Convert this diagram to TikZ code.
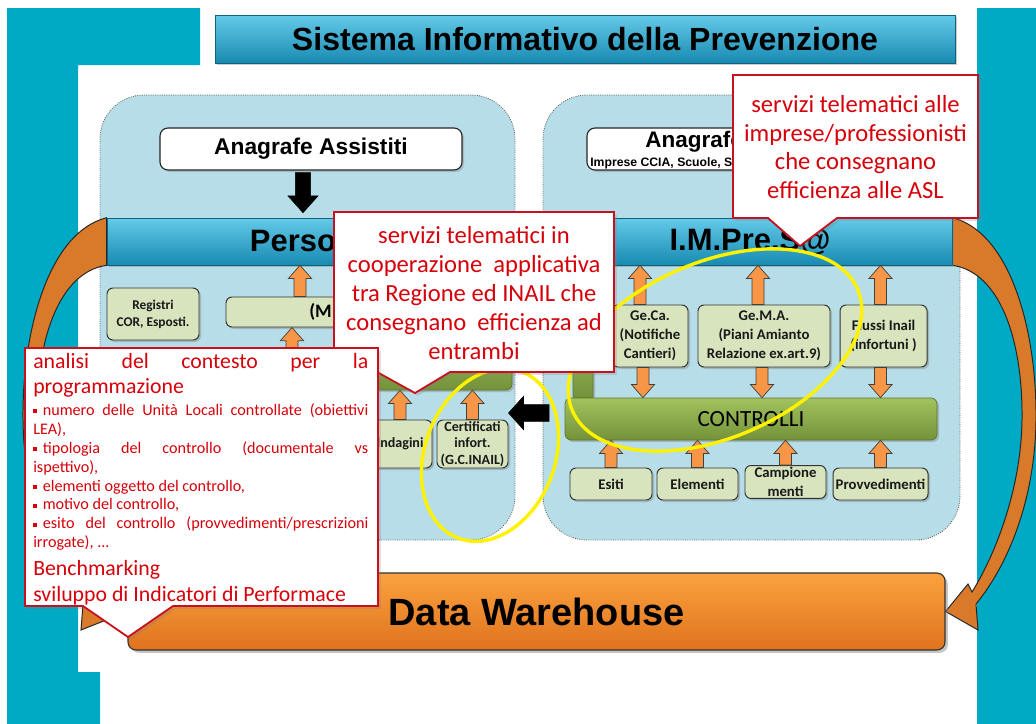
\documentclass[tikz,border=0pt]{standalone}
\usepackage{fontspec}
\setmainfont{Liberation Sans}
\newfontfamily\carlito{Carlito}
\usetikzlibrary{calc,shadows}
\setlength{\parindent}{0pt}

\definecolor{tealbg}{RGB}{0,170,196}
\definecolor{regblue}{RGB}{183,221,232}
\definecolor{bartop}{RGB}{100,202,232}
\definecolor{barbot}{RGB}{24,138,178}
\definecolor{boxgreen}{RGB}{215,228,189}
\definecolor{ctrltop}{RGB}{162,194,94}
\definecolor{ctrlbot}{RGB}{116,146,58}
\definecolor{arrorange}{RGB}{247,150,70}
\definecolor{dwtop}{RGB}{250,162,62}
\definecolor{dwbot}{RGB}{224,114,30}
\definecolor{curveorange}{RGB}{216,122,42}
\definecolor{calred}{RGB}{214,0,10}
\definecolor{calborder}{RGB}{200,16,30}

\newcommand\fsz[2]{\fontsize{#1}{#2}\selectfont}
\newcommand\itemsq{\rule[0.3ex]{0.5ex}{0.5ex}\hspace{0.35em}}

% frecce a blocco: stile, partenza, arrivo, mezzo fusto, mezza punta, lunghezza punta
\newcommand\vblk[6]{\draw[#1] let \p1=(#2),\p2=(#3),\n1={ifthenelse(\y2>\y1,1,-1)} in
  ({\x1-#4},\y1) -- ({\x1-#4},{\y2-(\n1)*#6}) -- ({\x1-#5},{\y2-(\n1)*#6}) -- (\x1,\y2)
  -- ({\x1+#5},{\y2-(\n1)*#6}) -- ({\x1+#4},{\y2-(\n1)*#6}) -- ({\x1+#4},\y1) -- cycle;}
\newcommand\hblk[6]{\draw[#1] let \p1=(#2),\p2=(#3),\n1={ifthenelse(\x2>\x1,1,-1)} in
  (\x1,{\y1-#4}) -- ({\x2-(\n1)*#6},{\y1-#4}) -- ({\x2-(\n1)*#6},{\y1-#5}) -- (\x2,\y1)
  -- ({\x2-(\n1)*#6},{\y1+#5}) -- ({\x2-(\n1)*#6},{\y1+#4}) -- (\x1,{\y1+#4}) -- cycle;}
\newcommand\oarr[2]{\vblk{oarrow}{#1}{#2}{1.5mm}{2.9mm}{3.3mm}}

\pgfdeclarelayer{bg}
\pgfdeclarelayer{mid}
\pgfsetlayers{bg,mid,main}

\tikzset{
  bw/.style={minimum width=#1*0.25mm},
  bh/.style={minimum height=#1*0.25mm},
  region/.style={draw=gray!70!black, densely dotted, line width=0.6pt, fill=regblue, rounded corners=11mm},
  blubar/.style={draw=barbot!70!black, line width=0.4pt, top color=bartop, bottom color=barbot,
    drop shadow={opacity=0.4,shadow xshift=0.6mm,shadow yshift=-0.6mm}, font=\bfseries\fsz{22}{26}},
  wbox/.style={draw=black!85, line width=0.8pt, fill=white, rounded corners=2mm,
    drop shadow={opacity=0.35,shadow xshift=0.5mm,shadow yshift=-0.5mm}},
  gbox/.style={draw=black!80, line width=0.7pt, fill=boxgreen, rounded corners=1.5mm, align=center,
    inner sep=1pt, text=black!90, drop shadow={opacity=0.4,shadow xshift=0.5mm,shadow yshift=-0.5mm},
    font=\carlito\bfseries\fsz{10.5}{13.5}},
  ctrlbox/.style={draw=ctrlbot!80!black, line width=0.5pt, top color=ctrltop, bottom color=ctrlbot,
    rounded corners=1.5mm, drop shadow={opacity=0.4,shadow xshift=0.5mm,shadow yshift=-0.5mm},
    font=\carlito\fsz{16.5}{19}},
  oarrow/.style={draw=black!75, line width=0.5pt, fill=arrorange},
  karrow/.style={draw=black, fill=black},
  curvarr/.style={draw=black!85, line width=0.7pt, fill=curveorange},
  ring/.style={draw=yellow, line width=0.85mm},
  callout/.style={draw=calborder, line width=0.45mm, fill=white,
    drop shadow={opacity=0.25,shadow xshift=0.7mm,shadow yshift=-0.7mm}},
  calltext/.style={font=\carlito\fsz{17.5}{20.5}, text=calred, align=center, inner sep=0pt}
}

\begin{document}
\begin{tikzpicture}[x=0.25mm,y=-0.25mm]
\useasboundingbox (0,0) rectangle (1036,724);

\begin{pgfonlayer}{bg}
\fill[white] (0,0) rectangle (1036,724);
\fill[tealbg] (7,8) -| (200,65) -| (78,672) -| (100,724) -| (7,8) -- cycle;
\fill[tealbg] (977,8) rectangle (1036,724);
\node[region, bw=415, bh=445] (leftreg) at (307.5,317.5) {};
\node[region, bw=417, bh=445] (rightreg) at (751.5,317.5) {};
\end{pgfonlayer}

% titolo
\node[blubar, bw=740, bh=48, font=\bfseries\fsz{22.8}{26}] (title) at (585,39) {Sistema Informativo della Prevenzione};

% anagrafi
\node[wbox, bw=302, bh=42, font=\bfseries\fsz{16.2}{19}] (anag) at (311,149) {Anagrafe Assistiti};
\node[wbox, bw=253, bh=42] (anagimp) at (713.5,149) {};
\node[anchor=west, inner sep=0pt, font=\bfseries\fsz{16}{19}] (anagr) at (645,142) {Anagrafe};
\node[anchor=west, inner sep=0pt, font=\bfseries\fsz{8.7}{10}] (anagrsub) at (590,163.5) {Imprese CCIA, Scuole, S};

% barre
\node[blubar, bw=408, bh=47] (persone) at (311,241.5) {Persone\hspace{5mm}};
\node[blubar, bw=404, bh=47] (impresa) at (750,241.5) {I.M.Pre.S@};
\vblk{karrow}{$(anag.south)+(-8,2)$}{$(persone.north)+(0,-5)$}{1.9mm}{3.75mm}{4.2mm}

% regione sinistra
\node[gbox, bw=92, bh=52, font=\carlito\bfseries\fsz{9.5}{12}] (reg) at (153,314) {Registri\\COR, Esposti.};
\node[gbox, bw=194, bh=30] (mbox) at (323,312) {};
\node[anchor=west, inner sep=0pt, font=\carlito\bfseries\fsz{13.5}{16}] (mtext) at (309,312) {(M};
\node[ctrlbox, bw=152, bh=60] (inibox) at (436,360) {};
\node[gbox, bw=64, bh=48, font=\carlito\bfseries\fsz{10}{11.5}] (indag) at (400,444) {Indagini};
\node[gbox, bw=71, bh=48, font=\carlito\bfseries\fsz{10}{11.5}] (cert) at (472.5,444) {Certificati\\infort.\\(G.C.INAIL)};
\coordinate (hida) at (292,362);
\oarr{$(mbox.north)+(-23,0)$}{persone.south}
\oarr{hida}{mbox.south}
\oarr{indag.north}{inibox.south}
\oarr{cert.north}{inibox.south}

% regione destra
\node[ctrlbox, bw=20, bh=68, rounded corners=0.5mm] (greentab) at (583,364) {};
\node[gbox, bw=76, bh=62] (geca) at (650,336) {Ge.Ca.\\(Notifiche\\Cantieri)};
\node[gbox, bw=132, bh=62] (gema) at (764,336) {Ge.M.A.\\(Piani Amianto\\Relazione ex.art.9)};
\node[gbox, bw=87, bh=62] (flussi) at (883.5,336) {Flussi Inail\\(infortuni )};
\node[ctrlbox, bw=372, bh=42] (controlli) at (751,419) {CONTROLLI};
\node[gbox, bw=82, bh=32] (esiti) at (611,484) {Esiti};
\node[gbox, bw=81, bh=32] (elem) at (697.5,484) {Elementi};
\node[gbox, bw=81, bh=32, font=\carlito\bfseries\fsz{10.5}{14}] (camp) at (785.5,482) {Campione\\menti};
\node[gbox, bw=95, bh=32] (provv) at (880.5,484) {Provvedimenti};
\oarr{$(geca.north)+(-10,0)$}{impresa.south}
\oarr{$(gema.north)+(-6,0)$}{impresa.south}
\oarr{$(flussi.north)+(-3,0)$}{impresa.south}
\oarr{$(geca.south)+(-7,0)$}{controlli.north}
\oarr{$(gema.south)+(-2,0)$}{controlli.north}
\oarr{$(flussi.south)+(-3,0)$}{controlli.north}
\foreach \b in {esiti,elem,camp,provv}
  {\oarr{\b.north}{controlli.south}}
\coordinate (blkstart) at (549,413);
\hblk{karrow}{blkstart}{cert.east}{2.1mm}{4.15mm}{3.75mm}

% data warehouse
\node[draw=black!80, line width=0.8pt, rounded corners=2mm, top color=dwtop, bottom color=dwbot,
  drop shadow={opacity=0.45,shadow xshift=0.7mm,shadow yshift=-0.7mm}, bw=817, bh=77,
  font=\bfseries\fsz{27}{30}] (dw) at (536.5,611.5) {Data Warehouse};

\begin{pgfonlayer}{mid}
\draw[curvarr] (impresa.north east) .. controls (1010,232) and (1037,330) .. (1036,420)
  .. controls (1035,500) and (1008,565) .. (976,604) -- (978,630) -- (dw.east) -- (968,584)
  -- (972,592) .. controls (995,555) and (1021,490) .. (1022,420)
  .. controls (1023,340) and (1000,272) .. (impresa.south east) -- cycle;
\draw[curvarr] (persone.north west) .. controls (49,232) and (22,330) .. (23,420)
  .. controls (24,500) and (51,565) .. (83,604) -- (81,630) -- (dw.west) -- (91,584)
  -- (87,592) .. controls (64,555) and (38,490) .. (37,420)
  .. controls (36,340) and (59,272) .. (persone.south west) -- cycle;
\end{pgfonlayer}

% ellissi
\draw[ring, rotate around={23:(715,350)}] (715,350) ellipse [x radius=155, y radius=88];
\draw[ring, rotate around={69:(490,455)}] (490,455) ellipse [x radius=89, y radius=65];

% fumetti
\draw[callout] (733,75) -- (978,75) -- (978,218) -- (837,218) -- (800,246) -- (768,218) -- (733,218) -- cycle;
\node[calltext] (calasl) at (855.5,147) {servizi telematici alle\\imprese/professionisti\\che consegnano\\efficienza alle ASL};
\draw[callout] (334,212) -- (614,212) -- (614,372) -- (450,372) -- (415,393) -- (377,372) -- (334,372) -- cycle;
\node[calltext] (calinail) at (474,293) {servizi telematici in\\cooperazione\ \ applicativa\\tra Regione ed INAIL che\\consegnano\ \ efficienza ad\\entrambi};
\draw[callout] (25,348) -- (378,348) -- (378,606) -- (173,606) -- (128,637) -- (83,606) -- (25,606) -- cycle;
\node[anchor=north west, inner sep=0pt, text width=83.75mm, align=justify, text=calred, font=\carlito] (analisi) at (33,353) {%
  \tolerance=10000\hyphenpenalty=10000\exhyphenpenalty=10000
  {\fsz{15.5}{17.5}analisi del contesto per la\linebreak programmazione\par}
  \vspace{2.5pt}
  {\fsz{11.5}{13.45}\itemsq numero delle Unità Locali controllate (obiettivi\linebreak LEA),\par
  \itemsq tipologia del controllo (documentale vs\linebreak ispettivo),\par
  \itemsq elementi oggetto del controllo,\par
  \itemsq motivo del controllo,\par
  \itemsq esito del controllo (provvedimenti/prescrizioni\linebreak irrogate), ...\par}
  \vspace{1.5pt}
  {\fsz{15.5}{18.5}Benchmarking\par
  sviluppo di Indicatori di Performace\par}};
\end{tikzpicture}
\end{document}
